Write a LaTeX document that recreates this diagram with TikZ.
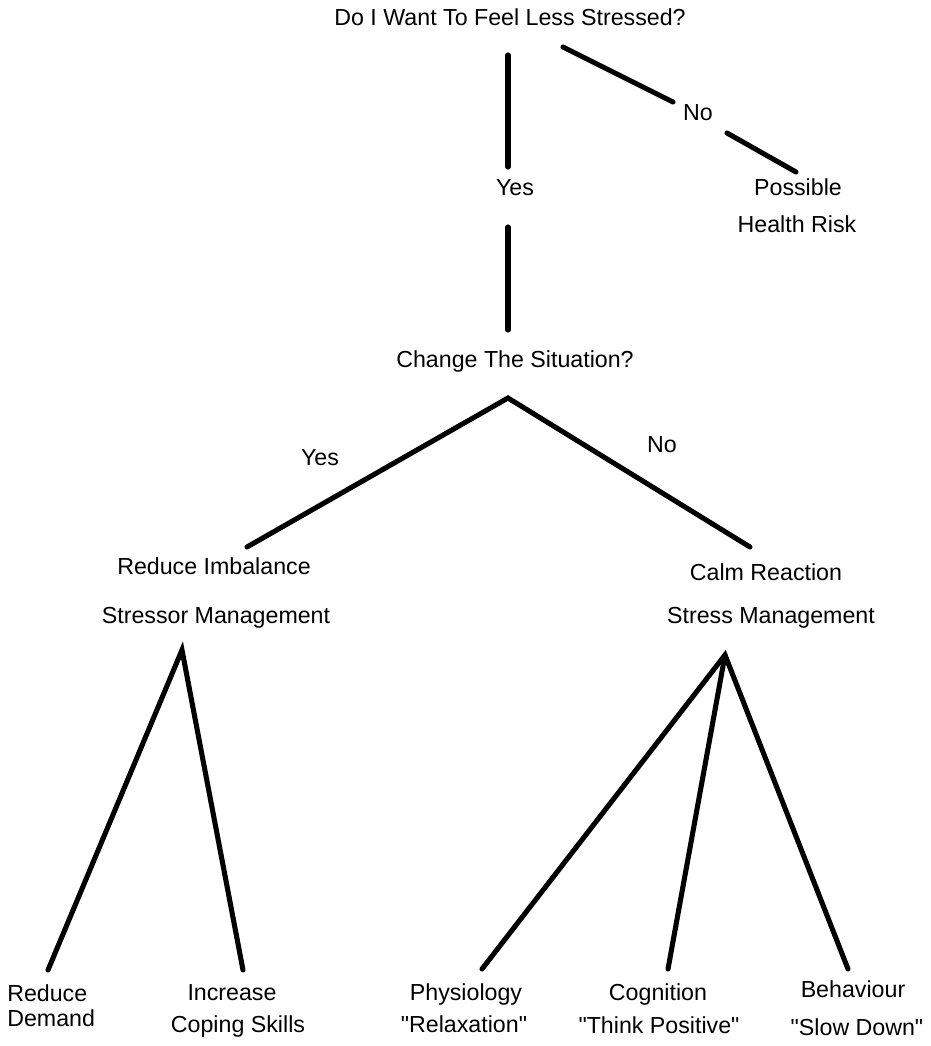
\documentclass[tikz,border=0pt]{standalone}
\usepackage{fontspec}
\setmainfont{Liberation Sans}
\tikzstyle{answer}=[
	font=\fontsize{16.5}{20}\selectfont,
	inner sep=0pt,
	text height=12pt,
	text depth=3.5pt
]
\tikzstyle{branch}=[
	line width=3.6pt,
	line cap=round
]

\begin{document}
\begin{tikzpicture}[x=0.025cm,y=-0.025cm]
\useasboundingbox (0,0) rectangle (930,1046);
% first question
\node [answer] (FeelLess) at (510,20) {Do I Want To Feel Less Stressed?};
\node [answer] (YesTop) at (515,190) {Yes};
\node [answer] (NoTop) at (698,115) {No};
\node [answer] (Possible) at (798,190) {Possible};
\node [answer] (HealthRisk) at (797,227) {Health Risk};
% second question
\node [answer] (ChangeSit) at (515,362) {Change The Situation?};
\node [answer] (YesMid) at (320,460) {Yes};
\node [answer] (NoMid) at (662,447) {No};
\node [answer] (ReduceImb) at (214,569) {Reduce Imbalance};
\node [answer] (StressorMgmt) at (216,618) {Stressor Management};
\node [answer] (CalmReact) at (766,575) {Calm Reaction};
\node [answer] (StressMgmt) at (771,618) {Stress Management};
% leaves
\node [answer, anchor=west] (Reduce) at (7,996) {Reduce};
\node [answer, anchor=west] (Demand) at (7,1021) {Demand};
\node [answer] (Increase) at (232,995) {Increase};
\node [answer] (Coping) at (238,1027) {Coping Skills};
\node [answer] (Physiology) at (466,995) {Physiology};
\node [answer] (Relaxation) at (464,1027) {\textquotedbl Relaxation\textquotedbl};
\node [answer] (Cognition) at (658,995) {Cognition};
\node [answer] (ThinkPos) at (659,1028) {\textquotedbl Think Positive\textquotedbl};
\node [answer] (Behaviour) at (853,992) {Behaviour};
\node [answer] (SlowDown) at (857,1030) {\textquotedbl Slow Down\textquotedbl};

% ends of the lines
\coordinate (FeelLessFoot) at (508,55);
\coordinate (YesTopHead) at (508,167);
\coordinate (YesTopFoot) at (508,227);
\coordinate (ChangeSitHead) at (508,330);
\coordinate (FeelLessSide) at (563,47);
\coordinate (NoTopHead) at (673,102);
\coordinate (NoTopFoot) at (727,133);
\coordinate (PossibleHead) at (796,172);
\coordinate (SitApex) at (508,398);
\coordinate (ReduceImbHead) at (247,547);
\coordinate (CalmReactHead) at (750,547);
\coordinate (StressorApex) at (182,650);
\coordinate (ReduceHead) at (48,970);
\coordinate (IncreaseHead) at (243,970);
\coordinate (StressApex) at (725,655);
\coordinate (PhysiologyHead) at (482,969);
\coordinate (CognitionHead) at (668,969);
\coordinate (BehaviourHead) at (848,969);

\draw [branch] (FeelLessFoot) -- (YesTopHead);
\draw [branch] (YesTopFoot) -- (ChangeSitHead);
\draw [branch] (FeelLessSide) -- (NoTopHead);
\draw [branch] (NoTopFoot) -- (PossibleHead);
\draw [branch] (ReduceImbHead) -- (SitApex) -- (CalmReactHead);
\draw [branch] (ReduceHead) -- (StressorApex) -- (IncreaseHead);
\draw [branch] (PhysiologyHead) -- (StressApex) -- (BehaviourHead);
\draw [branch] (StressApex) -- (CognitionHead);
\end{tikzpicture}
\end{document}
